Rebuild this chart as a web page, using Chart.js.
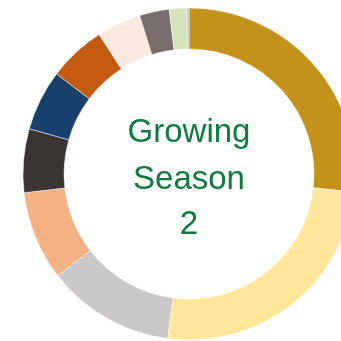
<!DOCTYPE html>
<html>
<head>
<meta charset="utf-8">
<script src="https://cdn.jsdelivr.net/npm/chart.js@4/dist/chart.umd.min.js"></script>
<style>
  html, body { margin: 0; padding: 0; background: #ffffff; overflow: hidden; width: 341px; height: 341px; }
  #wrap { position: absolute; left: 19px; top: 4px; width: 340px; height: 340px; }
</style>
</head>
<body>
<div id="wrap"><canvas id="chart"></canvas></div>
<script>
// Share of each category (percent), clockwise from 12 o'clock
const categories = ['A', 'B', 'C', 'D', 'E', 'F', 'G', 'H', 'I', 'J', 'K'];
const shares = [26.75, 25.3, 12.45, 8.7, 6.2, 5.9, 5.6, 4.3, 2.9, 1.7, 0.2];
const sliceColors = ['#C2921A', '#FFE699', '#C9C8C7', '#F4B183', '#3A3533', '#17406D',
                     '#C55A11', '#FBE8DE', '#7A6E6C', '#D5E3BA', '#A9C4E6'];
const centerLines = ['Growing', 'Season', '2'];

const centerText = {
  id: 'centerText',
  afterDraw(chart) {
    const arc = chart.getDatasetMeta(0).data[0];
    if (!arc) return;
    const ctx = chart.ctx;
    ctx.save();
    ctx.fillStyle = '#0F7A3E';
    ctx.font = '33px "Liberation Sans", Arial, sans-serif';
    ctx.textAlign = 'center';
    ctx.textBaseline = 'alphabetic';
    const baselines = [-32, 15, 60];
    centerLines.forEach((t, i) => ctx.fillText(t, arc.x, arc.y + baselines[i]));
    ctx.restore();
  }
};

new Chart(document.getElementById('chart'), {
  type: 'doughnut',
  data: {
    labels: categories,
    datasets: [{
      data: shares,
      backgroundColor: sliceColors,
      borderColor: '#ffffff',
      borderWidth: 0.5
    }]
  },
  options: {
    responsive: true,
    maintainAspectRatio: false,
    animation: false,
    radius: 166,
    cutout: '75.3%',
    layout: { padding: 0 },
    plugins: { legend: { display: false }, tooltip: { enabled: false } }
  },
  plugins: [centerText]
});
</script>
</body>
</html>
